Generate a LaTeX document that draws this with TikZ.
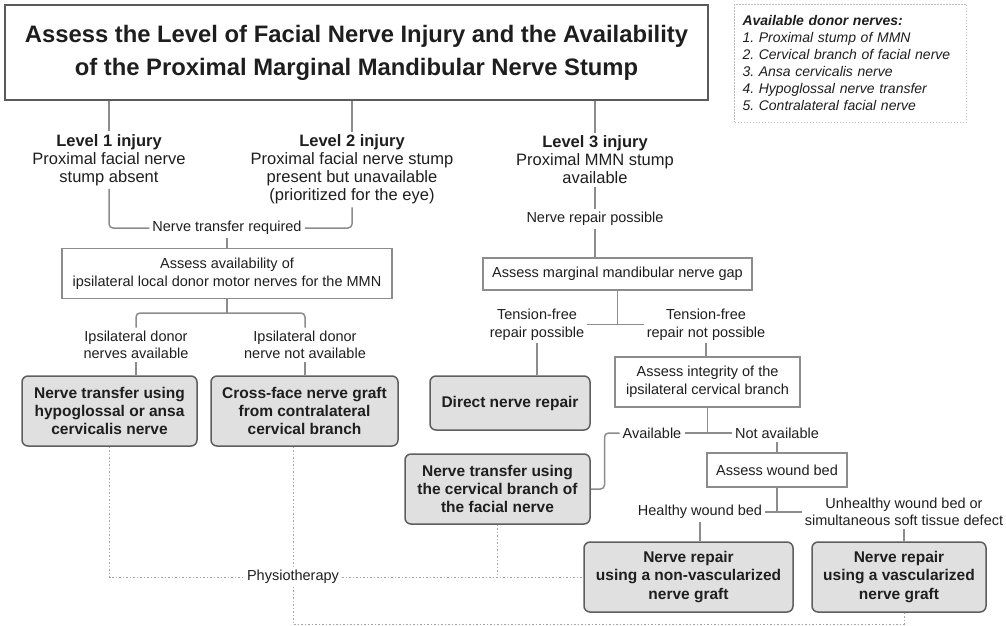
\documentclass[tikz,border=0pt]{standalone}
\usepackage{fontspec}
\setmainfont{Liberation Sans}
\usetikzlibrary{calc}
\frenchspacing
\definecolor{txt}{HTML}{1E1E1E}
\definecolor{linec}{HTML}{8C8C8C}
\definecolor{dotc}{HTML}{A5A5A5}
\definecolor{wborder}{HTML}{8C8C8C}
\definecolor{gborder}{HTML}{5E5E5E}
\definecolor{gfill}{HTML}{E0E0E0}
\definecolor{tborder}{HTML}{5A5A5A}
\definecolor{legc}{HTML}{BEBEBE}
\newcommand\fstitle{\fontsize{23.8}{33}\selectfont\bfseries}
\newcommand\fslvl{\fontsize{16.5}{18}\selectfont}
\newcommand\fslbl{\fontsize{14.5}{17.5}\selectfont}
\newcommand\fswbox{\fontsize{14.5}{18}\selectfont}
\newcommand\fsgbox{\fontsize{15.5}{18.3}\selectfont\bfseries}
\newcommand\fsleg{\fontsize{14}{17}\selectfont\itshape}
\begin{document}
\begin{tikzpicture}[x=1pt,y=-1pt,
  conn/.style={draw=linec, line width=1.5pt, rounded corners=4pt},
  dotline/.style={draw=dotc, line width=1pt, dash pattern=on 1.5pt off 2pt},
  wbox/.style={draw=wborder, line width=1.5pt, fill=white, inner sep=0pt, align=center, font=\fswbox, text=txt},
  gbox/.style={draw=gborder, line width=1.5pt, fill=gfill, rounded corners=6pt, inner sep=0pt, align=center, font=\fsgbox, text=txt},
  lbl/.style={inner sep=3pt, align=center, font=\fslbl, text=txt},
  lvl/.style={inner sep=3pt, align=center, font=\fslvl, text=txt}]
\useasboundingbox (0,0) rectangle (1006,625);

% title
\node[draw=tborder, line width=1.5pt, minimum width=703pt, minimum height=95pt, inner sep=0pt, align=center, font=\fstitle, text=txt] (title) at (356.5,52.5)
  {Assess the Level of Facial Nerve Injury and the Availability\\of the Proximal Marginal Mandibular Nerve Stump};

% legend
\node[draw=legc, line width=0.8pt, dash pattern=on 1.5pt off 1.5pt, minimum width=231pt, minimum height=118pt, text width=216pt, inner xsep=8pt, inner ysep=0pt, align=left, font=\fsleg, text=txt] (legend) at (850.5,63)
  {\textbf{Available donor nerves:}\\1. Proximal stump of MMN\\2. Cervical branch of facial nerve\\3. Ansa cervicalis nerve\\4. Hypoglossal nerve transfer\\5. Contralateral facial nerve};

% levels
\node[lvl] (l1) at (109,160) {\textbf{Level 1 injury}\\Proximal facial nerve\\stump absent};
\node[lvl] (l2) at (352,169.5) {\textbf{Level 2 injury}\\Proximal facial nerve stump\\present but unavailable\\(prioritized for the eye)};
\node[lvl] (l3) at (595,160) {\textbf{Level 3 injury}\\Proximal MMN stump\\available};

% left branch
\node[lbl] (ntr) at (227,228) {Nerve transfer required};
\node[wbox, minimum width=330pt, minimum height=50pt] (aa) at (227,273.5) {Assess availability of\\ipsilateral local donor motor nerves for the MMN};
\coordinate (b1) at (227,313);
\node[lbl] (ip1) at (136,345) {Ipsilateral donor\\nerves available};
\node[lbl] (ip2) at (305,345) {Ipsilateral donor\\nerve not available};
\node[gbox, minimum width=175pt, minimum height=70pt] (bA) at (109.5,411) {Nerve transfer using\\hypoglossal or ansa\\cervicalis nerve};
\node[gbox, minimum width=187pt, minimum height=70pt] (bB) at (304.5,411) {Cross-face nerve graft\\from contralateral\\cervical branch};

% right branch
\node[lbl] (nrp) at (595,219) {Nerve repair possible};
\node[wbox, minimum width=269pt, minimum height=32pt] (mg) at (617.5,274) {Assess marginal mandibular nerve gap};
\node[lbl] (tf1) at (537,324.5) {Tension-free\\repair possible};
\node[lbl] (tf2) at (706,324.5) {Tension-free\\repair not possible};
\node[gbox, minimum width=160pt, minimum height=54pt] (dnr) at (510,403) {Direct nerve repair};
\node[wbox, minimum width=185pt, minimum height=50pt] (ai) at (707.5,382) {Assess integrity of the\\ipsilateral cervical branch};
\node[lbl] (av) at (652,433) {Available};
\node[lbl] (nav) at (777,433) {Not available};
\node[gbox, minimum width=185pt, minimum height=70pt] (nt) at (497.5,489) {Nerve transfer using\\the cervical branch of\\the facial nerve};
\node[wbox, minimum width=140pt, minimum height=34pt] (wb) at (777,470) {Assess wound bed};
\node[lbl] (hw) at (700,512) {Healthy wound bed};
\node[lbl] (uw) at (904,512) {Unhealthy wound bed or\\simultaneous soft tissue defect};
\node[gbox, minimum width=209pt, minimum height=70pt] (nv) at (688.5,577) {Nerve repair\\using a non-vascularized\\nerve graft};
\node[gbox, minimum width=174pt, minimum height=70pt] (vs) at (899,577) {Nerve repair\\using a vascularized\\nerve graft};

% physiotherapy
\node[lbl, fill=white] (ph) at (293,577) {Physiotherapy};
\coordinate (bot) at (0,624);

% connectors
\draw[conn] (title.south -| l1.north) -- (l1.north);
\draw[conn] (title.south -| l2.north) -- (l2.north);
\draw[conn] (title.south -| l3.north) -- (l3.north);
\draw[conn] (l1.south) |- (ntr.west);
\draw[conn] (l2.south) |- (ntr.east);
\draw[conn] (ntr.south) -- (ntr.south |- aa.north);
\draw[conn] (aa.south) -- (b1);
\draw[conn] (ip1.north) |- (b1) -| (ip2.north);
\draw[conn] (ip1.south) -- (ip1.south |- bA.north);
\draw[conn] (ip2.south) -- (ip2.south |- bB.north);

\draw[conn] (l3.south) -- (nrp.north);
\draw[conn] (nrp.south) -- (nrp.south |- mg.north);
\draw[conn] (tf1.east) -- (tf2.west);
\draw[conn] (mg.south) -- (mg.south |- tf1.east);
\draw[conn] (tf1.south) -- (tf1.south |- dnr.north);
\draw[conn] (tf2.south) -- (tf2.south |- ai.north);
\draw[conn] (av.east) -- (nav.west);
\draw[conn] (ai.south) -- (ai.south |- av.east);
\draw[conn] (av.west) -- ++(-15,0) |- (nt.east);
\draw[conn] (nav.south) -- (nav.south |- wb.north);
\draw[conn] (hw.east) -- (uw.west);
\draw[conn] (wb.south) -- (wb.south |- hw.east);
\draw[conn] (hw.south) -- (hw.south |- nv.north);
\draw[conn] (uw.south) -- (uw.south |- vs.north);

\draw[dotline] (bA.south) |- (ph.west);
\draw[dotline] (ph.north |- bB.south) -- (ph.north);
\draw[dotline] (ph.east) -- (nv.west);
\draw[dotline] (nt.south) -- (nt.south |- nv.west);
\draw[dotline] (ph.south) |- (uw.south |- bot) -- (uw.south |- vs.south);
\end{tikzpicture}
\end{document}
